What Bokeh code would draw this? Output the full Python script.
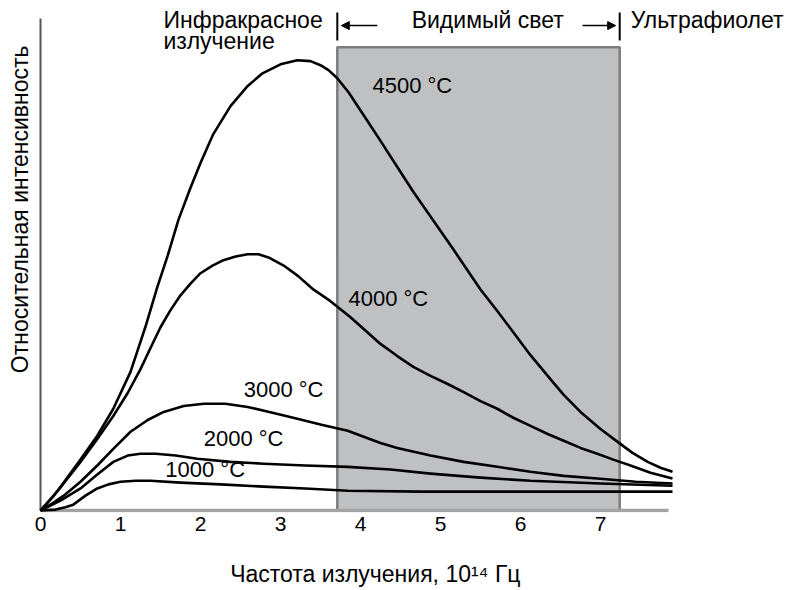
import math
from bokeh.plotting import figure
from bokeh.models import FixedTicker, Arrow, NormalHead
from bokeh.core.properties import value
from bokeh.embed import file_html
from bokeh.resources import INLINE

FONT = "Liberation Sans"

# ---------------- data ----------------
# frequency in 10^14 Hz, relative intensity (4500 °C peak = 100)
x4500 = [0, 0.15, 0.29, 0.5, 0.71, 0.91, 1.125, 1.31, 1.46, 1.59, 1.725, 1.875, 2.0, 2.16,
         2.375, 2.59, 2.775, 3.0, 3.21, 3.375, 3.5, 3.6, 3.71, 3.85, 4.04, 4.25, 4.46, 4.66,
         4.875, 5.16, 5.5, 5.71, 5.91, 6.125, 6.34, 6.54, 6.75, 7.0, 7.21, 7.4, 7.59, 7.75, 7.9]
y4500 = [0, 2.9, 6.2, 11.3, 16.6, 22.6, 30.8, 40.7, 49.6, 56.6, 64.6, 71.7, 77.2, 83.6,
         89.8, 94.3, 97.1, 99.1, 100.0, 99.8, 98.9, 97.8, 96.0, 92.9, 87.8, 82.1, 76.3, 70.8,
         65.3, 58.0, 49.1, 44.3, 39.6, 34.5, 29.9, 25.7, 21.9, 18.1, 15.3, 12.8, 10.8, 9.5, 8.6]

x4000 = [0, 0.25, 0.5, 0.71, 0.91, 1.09, 1.25, 1.375, 1.5, 1.625, 1.75, 1.875, 2.0, 2.15,
         2.275, 2.44, 2.59, 2.725, 2.85, 3.04, 3.225, 3.41, 3.625, 3.875, 4.04, 4.25, 4.46,
         4.66, 4.875, 5.09, 5.29, 5.5, 5.71, 5.91, 6.125, 6.34, 6.54, 6.75, 6.96, 7.16, 7.375,
         7.625, 7.9]
y4000 = [0, 5.1, 10.8, 15.9, 21.0, 26.1, 31.4, 36.1, 40.7, 44.5, 47.8, 50.4, 52.7, 54.4,
         55.5, 56.4, 56.9, 56.9, 56.2, 54.4, 52.0, 49.1, 46.5, 42.9, 40.3, 37.0, 34.3,
         31.9, 29.9, 28.1, 26.3, 24.3, 22.6, 20.6, 18.8, 17.0, 15.5, 13.9, 12.6, 11.3, 10.0,
         8.4, 7.1]

x3000 = [0, 0.15, 0.29, 0.5, 0.71, 0.91, 1.125, 1.34, 1.54, 1.79, 2.04, 2.31, 2.59, 2.9,
         3.21, 3.525, 3.84, 4.04, 4.25, 4.46, 4.875, 5.29, 5.71, 6.125, 6.54, 6.96, 7.44, 7.9]
y3000 = [0, 1.6, 3.3, 6.4, 10.0, 13.7, 17.5, 20.1, 21.9, 23.2, 23.7, 23.7, 23.0, 21.7,
         20.4, 19.0, 17.7, 16.4, 15.0, 13.9, 12.2, 10.8, 9.7, 8.6, 7.7, 7.1, 6.4, 6.0]

x2000 = [0, 0.25, 0.5, 0.71, 0.91, 1.09, 1.25, 1.44, 1.69, 1.96, 2.375, 2.79, 3.31, 3.84,
         4.375, 4.875, 5.5, 6.125, 7.0, 7.9]
y2000 = [0, 2.2, 4.9, 8.0, 10.8, 12.2, 12.6, 12.6, 12.2, 11.5, 10.8, 10.4, 10.0, 9.7,
         9.1, 8.2, 7.3, 6.6, 6.0, 5.5]

x1000 = [0, 0.19, 0.31, 0.41, 0.5625, 0.71, 0.85, 1.0, 1.19, 1.375, 1.75, 2.25, 2.79, 3.31,
         3.84, 4.75, 5.71, 6.75, 7.9]
y1000 = [0, 0.2, 0.7, 1.3, 3.3, 4.9, 5.8, 6.4, 6.6, 6.6, 6.2, 5.8, 5.3, 4.9,
         4.4, 4.2, 4.2, 4.2, 4.2]

curve_labels = ["4500 °C", "4000 °C", "3000 °C", "2000 °C", "1000 °C"]
label_x = [4.15, 3.85, 2.54, 2.04, 1.56]
label_y = [94.5, 47.1, 26.8, 15.9, 9.1]

VISIBLE_LO = 3.71     # start of visible band, 10^14 Hz
VISIBLE_HI = 7.24     # end of visible band, 10^14 Hz
BAND_TOP = 102.9
X_AXIS_MAX = 7.85
Y_AXIS_MAX = 109.3

x_ticks = [0, 1, 2, 3, 4, 5, 6, 7]
x_title = "Частота излучения, 10¹⁴ Гц"
y_title = "Относительная интенсивность"

# ---------------- figure ----------------
W, H = 788, 589
p = figure(width=W, height=H, x_range=(-0.5, 9.35), y_range=(-0.4425, 113.27),
           output_backend="svg", toolbar_location=None, title=None,
           min_border_left=0, min_border_right=0, min_border_top=0, min_border_bottom=75)
p.background_fill_color = "white"
p.border_fill_color = "white"
p.outline_line_color = None
p.grid.visible = False
p.yaxis.visible = False

ax = p.xaxis[0]
ax.ticker = FixedTicker(ticks=x_ticks)
ax.axis_line_color = None
ax.major_tick_line_color = None
ax.minor_tick_line_color = None
ax.major_tick_out = 0
ax.major_tick_in = 0
ax.major_label_standoff = 4
ax.major_label_text_font = FONT
ax.major_label_text_font_size = "21px"
ax.major_label_text_color = "black"
# trailing no-break spaces shift the centred title left, where the reference has it
ax.axis_label = x_title + "\u00a0" * 6
ax.axis_label_text_font = FONT
ax.axis_label_text_font_style = "normal"
ax.axis_label_text_font_size = "23px"
ax.axis_label_text_color = "black"
ax.axis_label_standoff = 27

# visible band
p.quad(left=[VISIBLE_LO], right=[VISIBLE_HI], bottom=[0], top=[BAND_TOP],
       fill_color="#bfc0c2", line_color="#7d7d7d", line_width=2.5)

# axis lines
p.line(x=[0, X_AXIS_MAX], y=[0, 0], line_color="#a3a3a3", line_width=3.5)
p.line(x=[0, 0], y=[0, Y_AXIS_MAX], line_color="#555555", line_width=2)

# curves
for xs, ys in [(x4500, y4500), (x4000, y4000), (x3000, y3000), (x2000, y2000), (x1000, y1000)]:
    p.line(x=xs, y=ys, line_color="black", line_width=2.6, line_join="round")

p.text(x=label_x, y=label_y, text=curve_labels, text_font=value(FONT),
       text_font_size="22px", text_baseline="middle", text_align="left", text_color="black")

# top annotations
p.text(x=[1.5375, 1.5375], y=[109.0, 104.2], text=["Инфракрасное", "излучение"],
       text_font=value(FONT), text_font_size="23px", text_baseline="middle",
       text_align="left", text_color="black")
p.text(x=[5.59], y=[109.0], text=["Видимый свет"], text_font=value(FONT),
       text_font_size="23px", text_baseline="middle", text_align="center", text_color="black")
p.text(x=[9.2875], y=[109.0], text=["Ультрафиолет"], text_font=value(FONT),
       text_font_size="23px", text_baseline="middle", text_align="right", text_color="black")

p.segment(x0=[VISIBLE_LO, VISIBLE_HI], y0=[104.4, 104.4], x1=[VISIBLE_LO, VISIBLE_HI],
          y1=[110.6, 110.6], line_color="black", line_width=2)
for xs, xe in [(4.21, 3.76), (6.775, 7.19)]:
    p.add_layout(Arrow(end=NormalHead(size=8, line_width=1, line_color="black", fill_color="black"),
                       x_start=xs, y_start=107.7, x_end=xe, y_end=107.7,
                       line_color="black", line_width=1.5))

# y axis title
p.text(x=[-0.255], y=[66.9], text=[y_title], angle=math.pi / 2,
       text_font=value(FONT), text_font_size="23px", text_baseline="middle",
       text_align="center", text_color="black")

open("out.html", "w").write(file_html(p, INLINE))
